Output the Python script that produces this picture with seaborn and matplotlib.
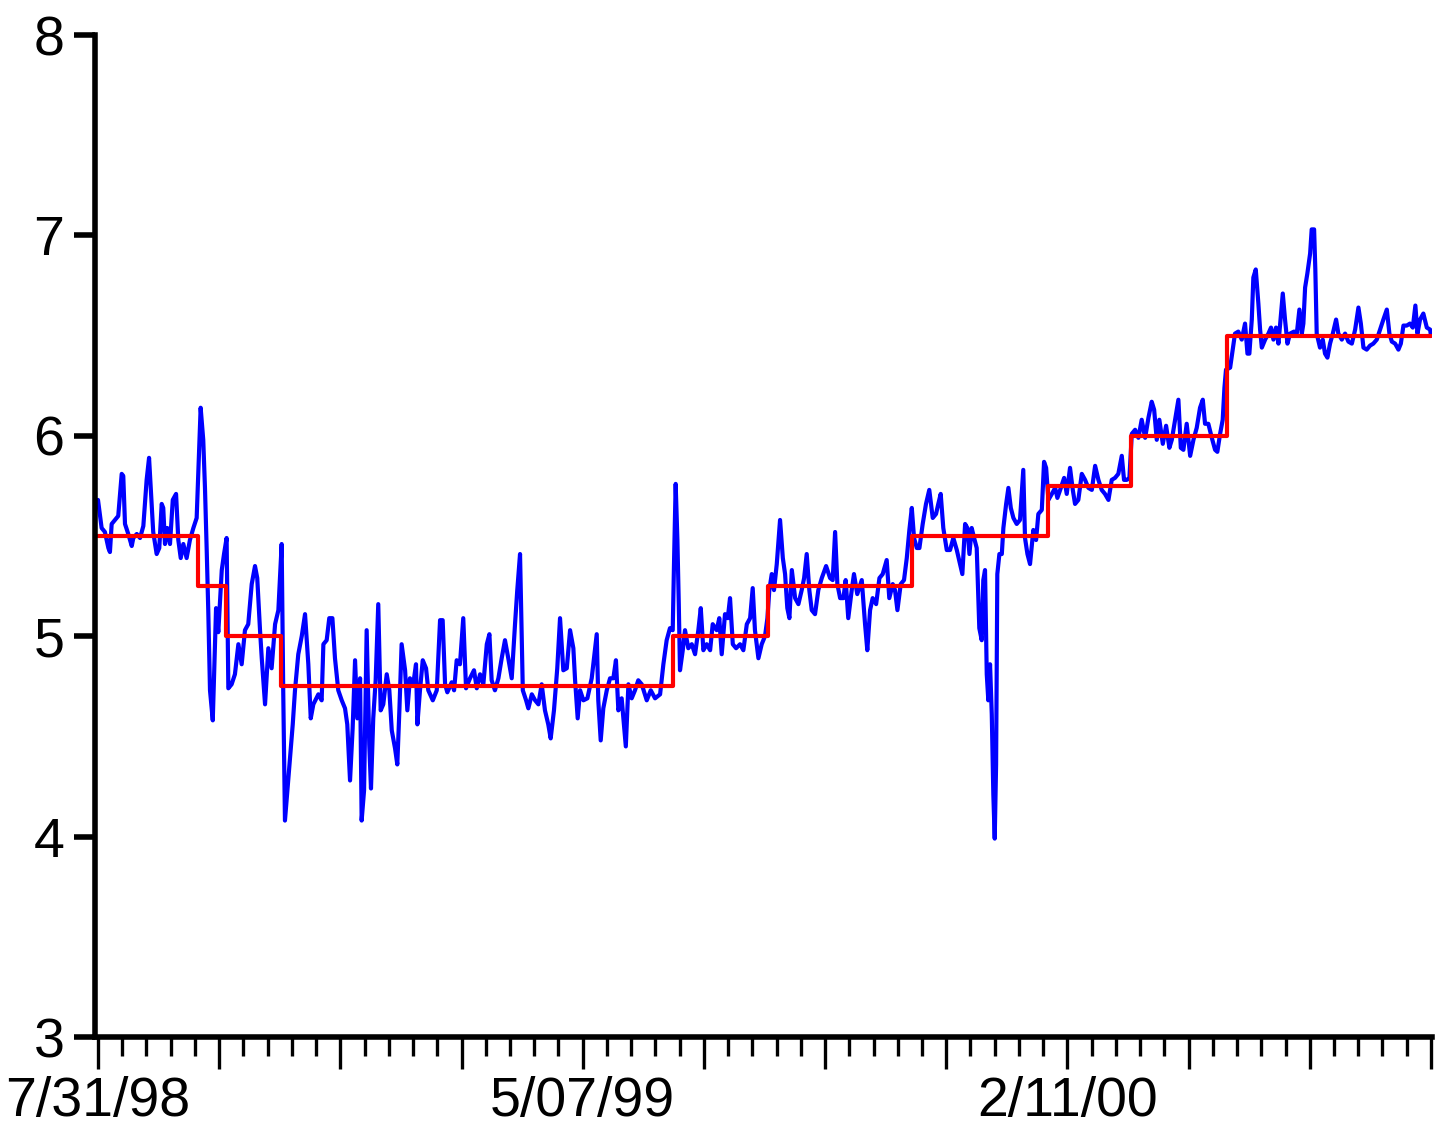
import matplotlib
matplotlib.use("Agg")
import matplotlib.pyplot as plt
import matplotlib.dates as mdates
import pandas as pd
import seaborn as sns

START = pd.Timestamp("1998-07-31")

# daily effective rate: days after 7/31/98 and percent
eff_day = [
    0.0, 2.1, 4.0, 6.0, 6.9, 7.9, 9.8, 11.7, 13.7, 14.6, 15.6, 17.5, 19.5, 20.4,
    22.4, 24.3, 26.2, 28.1, 29.5, 31.0, 31.9, 33.9, 35.4, 36.8, 37.7, 38.7, 40.0,
    41.6, 43.2, 45.1, 46.4, 47.8, 49.3, 51.2, 53.1, 55.1, 57.0, 57.9, 59.3, 60.8,
    61.8, 62.8, 63.7, 64.7, 66.3, 68.2, 69.5, 71.5, 72.8, 74.3, 75.3, 77.2, 79.1,
    81.1, 83.0, 84.9, 86.8, 88.8, 90.7, 92.0, 93.6, 94.6, 96.5, 98.4, 100.3, 102.3,
    104.2, 106.1, 107.0, 108.0, 109.4, 110.9, 112.5, 113.8, 115.7, 117.7, 119.6,
    121.5, 122.9, 124.4, 127.3, 129.2, 130.2, 132.1, 133.6, 135.4, 136.9, 138.8,
    140.8, 142.7, 144.0, 145.6, 147.1, 148.5, 149.8, 151.4, 152.3, 153.7, 155.2,
    156.7, 157.7, 159.0, 160.4, 161.9, 163.3, 164.8, 166.8, 168.3, 169.7, 171.6,
    172.9, 174.1, 175.4, 177.4, 178.7, 180.2, 182.1, 183.7, 184.5, 186.0, 187.6,
    189.5, 190.8, 193.4, 195.7, 197.6, 199.1, 200.5, 201.8, 204.3, 205.7, 207.2,
    209.1, 211.0, 212.6, 214.9, 217.2, 218.8, 220.7, 222.6, 224.6, 226.1, 227.4,
    229.3, 231.3, 233.2, 235.1, 237.0, 239.0, 240.9, 242.2, 243.8, 245.4, 247.3,
    248.6, 250.6, 252.5, 254.4, 256.3, 258.2, 260.1, 261.5, 263.4, 265.3, 266.9,
    268.8, 270.8, 272.7, 274.6, 275.6, 277.1, 278.5, 280.4, 282.7, 285.2, 286.5,
    288.1, 289.0, 290.4, 291.9, 293.9, 295.8, 297.7, 299.2, 300.6, 302.5, 304.9,
    306.4, 308.3, 310.2, 312.1, 314.1, 317.0, 319.3, 321.8, 324.7, 326.6, 328.5,
    330.4, 332.0, 332.8, 333.7, 334.7, 335.5, 336.2, 337.8, 339.1, 341.0, 343.0,
    344.9, 346.8, 348.2, 349.7, 351.6, 353.6, 355.1, 357.4, 358.9, 360.3, 362.2,
    363.8, 365.1, 366.7, 368.6, 370.9, 372.8, 374.8, 376.7, 378.2, 379.5, 381.5,
    383.4, 385.3, 386.7, 387.8, 389.2, 390.5, 392.1, 394.0, 395.6, 396.9, 398.2,
    399.4, 400.8, 402.7, 404.6, 406.5, 407.9, 409.4, 410.9, 412.3, 414.2, 416.1,
    418.1, 420.6, 422.9, 424.4, 425.8, 427.1, 428.7, 430.6, 431.9, 433.4, 435.4,
    436.7, 438.6, 441.2, 443.1, 444.4, 446.0, 447.5, 449.5, 451.4, 453.3, 455.6,
    457.1, 459.1, 460.4, 461.8, 463.7, 465.6, 467.2, 468.7, 470.1, 471.4, 473.0,
    474.5, 476.4, 478.3, 480.2, 482.2, 484.1, 485.4, 486.8, 488.3, 490.3, 492.2,
    494.1, 496.1, 498.0, 499.3, 500.9, 502.2, 503.4, 504.7, 506.1, 507.6, 509.1,
    510.5, 511.4, 512.4, 513.4, 514.3, 515.3, 516.3, 517.2, 518.0, 518.8, 519.5,
    520.7, 522.1, 523.0, 524.6, 525.9, 527.3, 528.8, 530.7, 532.6, 534.5, 535.5,
    536.9, 538.4, 540.3, 541.9, 543.2, 545.2, 546.5, 547.7, 549.0, 551.0, 552.9,
    554.2, 556.2, 558.1, 559.6, 561.5, 563.1, 564.4, 566.3, 568.3, 570.2, 572.1,
    574.1, 576.0, 577.9, 579.8, 581.7, 583.7, 585.6, 587.5, 589.4, 591.4, 592.7,
    594.3, 595.8, 597.2, 599.1, 601.0, 602.9, 604.9, 606.8, 608.7, 610.1, 611.6,
    613.1, 615.1, 617.0, 618.9, 620.3, 622.2, 624.1, 625.5, 627.0, 628.9, 630.9,
    632.8, 634.7, 636.6, 638.2, 639.5, 641.4, 643.4, 645.3, 646.6, 648.2, 649.7,
    650.7, 651.6, 654.0, 656.8, 658.7, 660.7, 662.6, 664.0, 665.1, 666.5, 667.4,
    668.8, 670.3, 671.3, 672.3, 674.2, 676.1, 677.6, 679.0, 680.5, 681.9, 683.2,
    684.4, 685.7, 687.1, 688.6, 690.9, 692.5, 694.0, 695.4, 696.3, 697.3, 698.6,
    700.2, 701.1, 702.5, 703.2, 704.0, 705.9, 707.5, 708.8, 710.2, 711.7, 713.3,
    715.2, 716.5, 718.5, 720.4, 722.3, 724.3, 726.2, 728.1, 729.5, 731.0, 732.9,
    734.8, 736.7, 738.7, 740.6, 742.5, 744.5, 746.0, 747.4, 749.3, 751.2, 752.6,
    754.1, 756.0, 757.9, 759.5, 761.0, 762.2, 763.7, 765.6, 767.6, 769.5, 770.0,
]
eff_rate = [
    5.68, 5.54, 5.52, 5.44, 5.42, 5.56, 5.58, 5.60, 5.81, 5.80, 5.56, 5.51, 5.45, 5.49,
    5.51, 5.49, 5.55, 5.78, 5.89, 5.66, 5.52, 5.41, 5.44, 5.66, 5.64, 5.46, 5.54,
    5.46, 5.68, 5.71, 5.48, 5.39, 5.46, 5.39, 5.48, 5.54, 5.59, 5.81, 6.14, 5.98,
    5.74, 5.43, 5.13, 4.73, 4.58, 5.14, 5.02, 5.33, 5.41, 5.49, 4.74, 4.76, 4.81,
    4.96, 4.86, 5.03, 5.06, 5.26, 5.35, 5.29, 5.03, 4.89, 4.66, 4.94, 4.84, 5.06,
    5.13, 5.46, 4.73, 4.08, 4.23, 4.39, 4.56, 4.73, 4.91, 5.00, 5.11,
    4.86, 4.59, 4.66, 4.71, 4.68, 4.96, 4.98, 5.09, 5.09, 4.89, 4.73,
    4.68, 4.64, 4.56, 4.28, 4.54, 4.88, 4.59, 4.79, 4.08, 4.23, 5.03,
    4.46, 4.24, 4.59, 4.78, 5.16, 4.63, 4.66, 4.81, 4.73, 4.53, 4.44,
    4.36, 4.63, 4.96, 4.83, 4.63, 4.79, 4.76, 4.86, 4.56, 4.73, 4.88,
    4.84, 4.73, 4.68, 4.73, 5.08, 5.08, 4.76, 4.72, 4.77, 4.73, 4.88,
    4.86, 5.09, 4.74, 4.79, 4.83, 4.74, 4.81, 4.76, 4.96, 5.01, 4.78,
    4.73, 4.79, 4.89, 4.98, 4.89, 4.79, 5.06, 5.23, 5.41, 4.73, 4.68,
    4.64, 4.71, 4.68, 4.66, 4.76, 4.63, 4.56, 4.49, 4.63, 4.84, 5.09,
    4.83, 4.84, 5.03, 4.94, 4.78, 4.59, 4.73, 4.68, 4.69, 4.79, 4.89,
    5.01, 4.68, 4.48, 4.64, 4.73, 4.79, 4.79, 4.88, 4.63, 4.69, 4.45,
    4.76, 4.69, 4.73, 4.78, 4.76, 4.68, 4.73, 4.69, 4.71, 4.86, 4.98,
    5.04, 5.03, 5.39, 5.76, 5.48, 5.16, 4.83, 4.93, 5.03, 4.94, 4.96,
    4.91, 5.03, 5.14, 4.93, 4.96, 4.93, 5.06, 5.03, 5.09, 4.91, 5.11,
    5.09, 5.19, 4.96, 4.94, 4.96, 4.93, 5.06, 5.09, 5.24, 5.03, 4.89,
    4.96, 5.00, 5.09, 5.23, 5.31, 5.23, 5.36, 5.58, 5.39, 5.31, 5.14,
    5.09, 5.33, 5.19, 5.16, 5.23, 5.29, 5.41, 5.23, 5.13, 5.11, 5.23,
    5.29, 5.35, 5.29, 5.28, 5.52, 5.26, 5.19, 5.19, 5.28, 5.09, 5.23,
    5.31, 5.21, 5.28, 5.06, 4.93, 5.13, 5.19, 5.16, 5.29, 5.31, 5.38,
    5.19, 5.26, 5.23, 5.13, 5.26, 5.28, 5.39, 5.53, 5.64, 5.49, 5.44,
    5.44, 5.56, 5.66, 5.73, 5.59, 5.61, 5.66, 5.71, 5.54, 5.43, 5.43,
    5.49, 5.43, 5.36, 5.31, 5.56, 5.54, 5.41, 5.54, 5.49, 5.44, 5.04,
    4.98, 5.28, 5.33, 4.81, 4.68, 4.86, 4.61, 4.21, 3.99, 4.36, 5.31,
    5.41, 5.41, 5.54, 5.66, 5.74, 5.64, 5.59, 5.56, 5.58, 5.83, 5.49,
    5.41, 5.36, 5.53, 5.48, 5.61, 5.63, 5.87, 5.84, 5.68, 5.71, 5.74,
    5.69, 5.74, 5.79, 5.71, 5.84, 5.73, 5.66, 5.68, 5.81, 5.78, 5.74,
    5.73, 5.85, 5.78, 5.73, 5.71, 5.68, 5.78, 5.79, 5.81, 5.90, 5.78,
    5.78, 5.79, 6.01, 6.03, 5.99, 6.08, 5.99, 6.09, 6.17, 6.13, 5.98,
    6.08, 5.96, 6.05, 5.94, 5.98, 6.08, 6.18, 5.94, 5.93, 6.06, 5.90,
    5.98, 6.04, 6.14, 6.18, 6.06, 6.06, 5.99, 5.93, 5.92, 6.01, 6.08,
    6.24, 6.33, 6.34, 6.51, 6.52, 6.48, 6.56, 6.41, 6.41, 6.58, 6.79,
    6.83, 6.66, 6.53, 6.44, 6.48, 6.51, 6.54, 6.48, 6.54, 6.46, 6.59,
    6.71, 6.58, 6.46, 6.51, 6.52, 6.51, 6.63, 6.51, 6.56, 6.74, 6.81,
    6.91, 7.03, 7.03, 6.83, 6.51, 6.44, 6.48, 6.41, 6.39, 6.46, 6.51,
    6.58, 6.51, 6.48, 6.51, 6.47, 6.46, 6.53, 6.64, 6.56, 6.44, 6.43,
    6.45, 6.46, 6.48, 6.53, 6.58, 6.63, 6.51, 6.47, 6.46, 6.43, 6.46,
    6.55, 6.55, 6.56, 6.54, 6.65, 6.51, 6.58, 6.61, 6.54, 6.53, 6.50,
]

# target rate: day (after 7/31/98) where each level begins on the chart
target_day = [0, 58, 74, 106, 332, 387, 470, 549, 597, 652, 770]
target_rate = [5.5, 5.25, 5.0, 4.75, 5.0, 5.25, 5.5, 5.75, 6.0, 6.5, 6.5]

# axis layout in days
major_step = 70
minor_step = 14
last_day = 770
label_days = [0, 280, 560]

eff = pd.DataFrame({"date": START + pd.to_timedelta(eff_day, unit="D"),
                    "rate": eff_rate})
target = pd.DataFrame({"date": START + pd.to_timedelta(target_day, unit="D"),
                       "rate": target_rate})

sns.set_style("ticks")
plt.rcParams["font.family"] = ["Liberation Sans", "DejaVu Sans"]

fig = plt.figure(figsize=(14.5, 11.27), dpi=100)
ax = fig.add_axes([94.7 / 1450, 1 - 1037 / 1127, (1432 - 94.7) / 1450, (1037 - 35) / 1127])

sns.lineplot(data=eff, x="date", y="rate", ax=ax, color="#0000ff", lw=3.0,
             estimator=None, sort=False)
sns.lineplot(data=target, x="date", y="rate", ax=ax, color="#ff0000", lw=3.0,
             estimator=None, sort=False, drawstyle="steps-post")

ax.set_xlim(START - pd.Timedelta(days=1.9), START + pd.Timedelta(days=770.6))
ax.set_ylim(3, 8)
ax.set_yticks(range(3, 9))

major = [START + pd.Timedelta(days=d) for d in range(0, last_day + 1, major_step)]
minor = [START + pd.Timedelta(days=d) for d in range(0, last_day + 1, minor_step)]
ax.set_xticks(mdates.date2num(major))
ax.set_xticks(mdates.date2num(minor), minor=True)
labels = []
for d in major:
    if (d - START).days in label_days:
        labels.append(f"{d.month}/{d.day:02d}/{d:%y}")
    else:
        labels.append("")
ax.set_xticklabels(labels)

ax.set_xlabel("")
ax.set_ylabel("")
sns.despine(ax=ax)
for side in ["left", "bottom"]:
    ax.spines[side].set_linewidth(4)
    ax.spines[side].set_color("black")

ax.tick_params(axis="y", which="major", direction="out", length=15.4, width=4,
               pad=6.5, labelsize=40, colors="black")
ax.tick_params(axis="x", which="major", direction="out", length=23, width=2.4,
               pad=5, labelsize=40, colors="black")
ax.tick_params(axis="x", which="minor", direction="out", length=14, width=2.4,
               colors="black")

fig.savefig("out.png", dpi=100)
